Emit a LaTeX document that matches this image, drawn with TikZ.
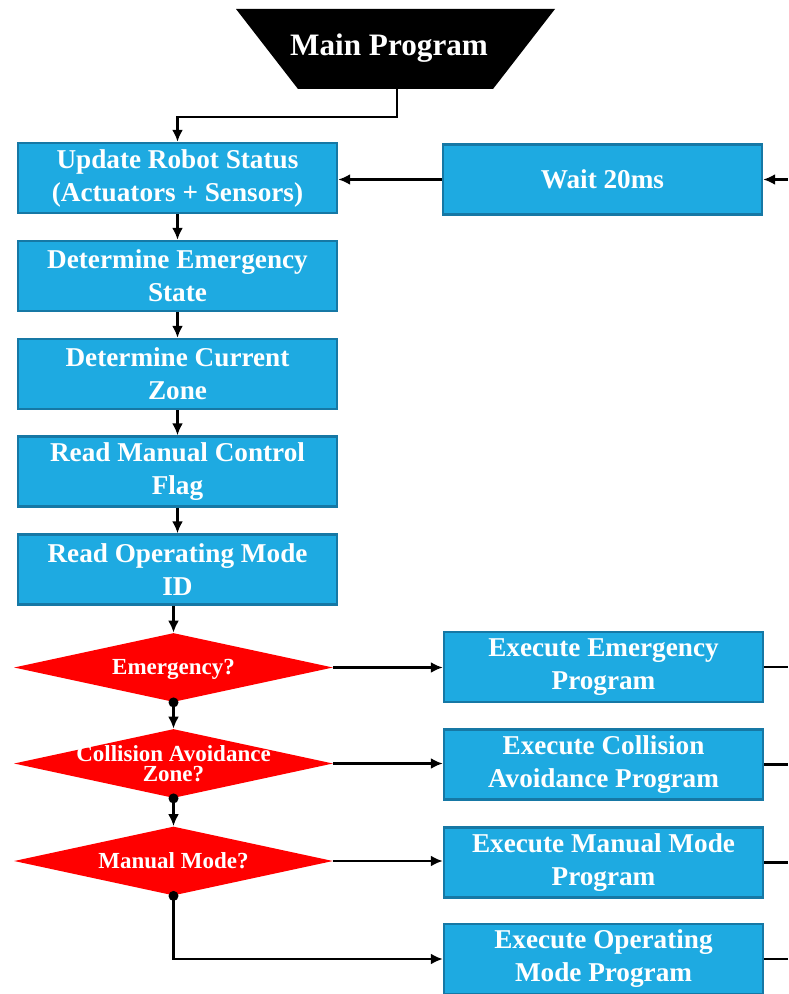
\documentclass[tikz,border=0pt]{standalone}
\usepackage{fontspec}
\setmainfont{Liberation Serif}
\usetikzlibrary{shapes.geometric,arrows.meta}

\definecolor{boxblue}{RGB}{30,170,225}
\definecolor{boxedge}{RGB}{22,120,165}
\definecolor{decred}{RGB}{255,0,0}

\tikzset{
  process/.style={draw=boxedge, line width=1.2pt, fill=boxblue, text=white,
    font=\fontsize{13.6}{16.5}\selectfont\bfseries, align=center,
    minimum width=159.5pt, minimum height=35pt, inner sep=0pt},
  decision/.style={diamond, fill=decred, minimum width=159.5pt,
    minimum height=34.5pt, inner sep=0pt},
  decisiontext/.style={text=white, font=\fontsize{11.5}{10}\selectfont\bfseries,
    align=center, inner sep=0pt},
  joint/.style={circle, fill=black, inner sep=0pt, minimum size=5pt},
  flow/.style={line width=1.2pt, -{Latex[length=6pt,width=5.5pt]}},
  link/.style={line width=1.2pt},
}

\begin{document}
\begin{tikzpicture}[x=0.5pt, y=-0.5pt]
    \useasboundingbox (0,0) rectangle (788,994);

    % start block
    \fill[black] (236,9) -- (555,9) -- (493,89) -- (298,89) -- cycle;
    \node[text=white, font=\fontsize{15.6}{18}\selectfont\bfseries] (main) at (389,48) {Main Program};
    \coordinate (mainout) at (397,89);

    % main sequence
    \node[process] (status) at (177.5,178)   {Update Robot Status\\(Actuators + Sensors)};
    \node[process] (emstate) at (177.5,276)  {Determine Emergency\\State};
    \node[process] (zone) at (177.5,374)     {Determine Current\\Zone};
    \node[process] (manflag) at (177.5,471.5) {Read Manual Control\\Flag};
    \node[process] (modeid) at (177.5,569.5) {Read Operating Mode\\ID};

    \node[process] (wait) at (602.5,179.5) {Wait 20ms};

    % decisions
    \node[decision] (emg) at (173.5,667.5) {};
    \node[decisiontext] (emgtext) at ([yshift=-1pt]emg) {Emergency?};
    \node[decision] (col) at (173.5,763.5) {};
    \node[decisiontext] (coltext) at (col) {Collision Avoidance\\Zone?};
    \node[decision] (man) at (173.5,861) {};
    \node[decisiontext] (mantext) at (man) {Manual Mode?};

    \node[joint] (emgdot) at (emg.south) {};
    \node[joint] (coldot) at (col.south) {};
    \node[joint] (mandot) at (man.south) {};

    % programs
    \node[process] (exemg) at (603.5,667)   {Execute Emergency\\Program};
    \node[process] (excol) at (603.5,764.5) {Execute Collision\\Avoidance Program};
    \node[process] (exman) at (603.5,862.5) {Execute Manual Mode\\Program};
    \node[process] (exop) at (603.5,959)    {Execute Operating\\Mode Program};

    % return lines to the wait block
    \coordinate (back0) at (788,179.5);
    \coordinate (back1) at (788,667);
    \coordinate (back2) at (788,764.5);
    \coordinate (back3) at (788,862.5);
    \coordinate (back4) at (788,959);

    \draw[flow] (mainout) -- ++(0,28) -| (status.north);
    \draw[flow] (status) -- (emstate);
    \draw[flow] (emstate) -- (zone);
    \draw[flow] (zone) -- (manflag);
    \draw[flow] (manflag) -- (modeid);
    \draw[flow] (emg.north |- modeid.south) -- (emg.north);
    \draw[flow] (emgdot.center) -- (col.north);
    \draw[flow] (coldot.center) -- (man.north);
    \draw[flow] (mandot.center) |- (exop.west);

    \draw[flow] (emg.east) -- (emg -| exemg.west);
    \draw[flow] (col.east) -- (col -| excol.west);
    \draw[flow] (man.east) -- (man -| exman.west);

    \draw[link] (exemg.east) -- (back1);
    \draw[link] (excol.east) -- (back2);
    \draw[link] (exman.east) -- (back3);
    \draw[link] (exop.east) -- (back4);

    \draw[flow] (back0) -- (wait.east);
    \draw[flow] (wait.west) -- (status.east |- wait.west);
\end{tikzpicture}
\end{document}
